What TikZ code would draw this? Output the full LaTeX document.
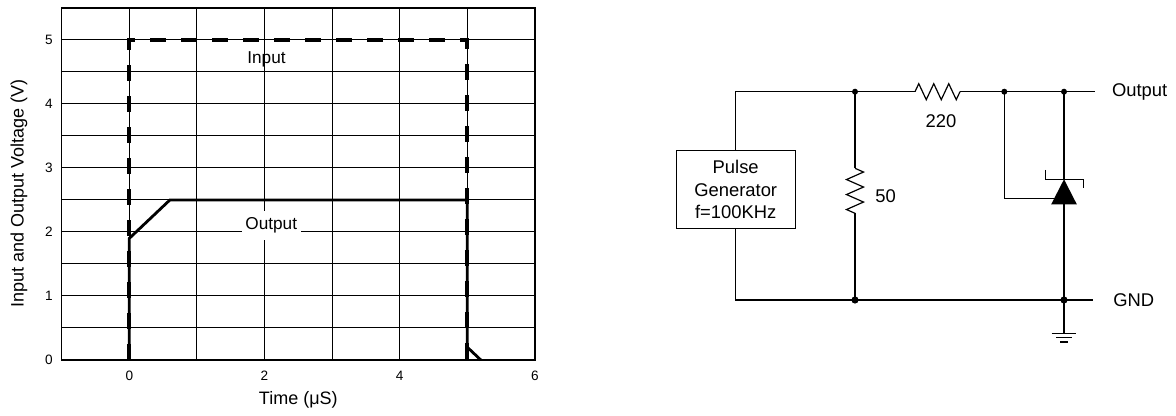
\documentclass[tikz,border=0pt]{standalone}
\usepackage{fontspec}
\setmainfont{Liberation Sans}
\usepackage{tikz}
\usetikzlibrary{calc}
\usetikzlibrary{positioning}
\tikzstyle{gridline} = [line width=0.5pt]
\tikzstyle{frame} = [line width=0.7pt]
\tikzstyle{inputline} = [line width=1.9pt, dash pattern=on 8pt off 7.5pt]
\tikzstyle{outputline} = [line width=1.4pt, line join=miter]
\tikzstyle{ticklabel} = [font=\fontsize{6.8pt}{8pt}\selectfont]
\tikzstyle{axislabel} = [font=\fontsize{9pt}{11pt}\selectfont]
\tikzstyle{curvelabel} = [font=\fontsize{8.6pt}{10pt}\selectfont, inner xsep=1.8pt, inner ysep=3.5pt]
\tikzstyle{wire} = [line width=0.6pt]
\tikzstyle{dot} = [circle, fill=black, inner sep=0pt, minimum size=3pt]
\tikzstyle{bigdot} = [circle, fill=black, inner sep=0pt, minimum size=3.6pt]
\tikzstyle{box} = [rectangle, draw=black, line width=0.6pt, align=center, minimum width=59.6pt, minimum height=39pt, font=\fontsize{9.2pt}{11.25pt}\selectfont]
\tikzstyle{partlabel} = [font=\fontsize{9.2pt}{11pt}\selectfont]

\begin{document}
\begin{tikzpicture}[x=33.8pt,y=32pt]
\useasboundingbox (-1.9127,-0.875) rectangle (15.4837,5.625);

\draw [gridline] (-1,0) grid [xstep=1,ystep=0.5] (6,5.5);
\draw [frame] (-1,0) rectangle (6,5.5);
\foreach \x in {0,2,4,6}
	\node (xt\x) [ticklabel, below=2pt] at (\x,0) {\x};
\foreach \y in {0,...,5}
	\node (yt\y) [ticklabel, left=1pt] at (-1,\y) {\y};
\node (xlabel) [axislabel] at (2.5,-0.625) {Time (μS)};
\node (ylabel) [axislabel, rotate=90] at (-1.632,2.6) {Input and Output Voltage (V)};

\node (inlabel) [curvelabel] at (2.03,4.69) {Input};
\node (outlabel) [curvelabel, fill=white] at (2.1,2.1) {Output};
\draw [inputline] (0,0) -- (0,5) -- (5,5) -- (5,0);
\draw [outputline] (0,0) -- (0,1.9) -- (0.6,2.5) -- (5,2.5) -- (5,0.2) -- (5.2,0);

\begin{scope}[shift={(303.2pt,30pt)}, x=0.5pt, y=0.5pt]
	\node (pulse) [box] at (0,110.3) {Pulse\\Generator\\f=100KHz};
	\coordinate (topleft) at (0,208.3);
	\coordinate (botleft) at (0,0);
	\coordinate (ntop) at (119.3,208.3);
	\coordinate (nbot) at (119.3,0);
	\coordinate (rloada) at (119.3,131.7);
	\coordinate (rloadb) at (119.3,86.7);
	\coordinate (rloadc) at (119.3,109.2);
	\coordinate (rsera) at (179.3,208.3);
	\coordinate (rserb) at (224.3,208.3);
	\coordinate (rserc) at (201.8,208.3);
	\coordinate (nclamp) at (268.6,208.3);
	\coordinate (bend) at (268.6,101.7);
	\coordinate (nout) at (328.3,208.3);
	\coordinate (ngnd) at (328.3,0);
	\coordinate (cathode) at (328.3,120.7);
	\coordinate (anode) at (328.3,95.7);
	\coordinate (gate) at (328.3,101.7);
	\coordinate (outend) at (359.3,208.3);
	\coordinate (gndend) at (357,0);
	\coordinate (earth) at (328.3,-33.3);

	\draw [wire] (pulse) -- (topleft) -- (ntop) -- (rsera);
	\draw [wire] (rsera) -- ++(3.75,8) -- ++(7.5,-16) -- ++(7.5,16) -- ++(7.5,-16) -- ++(7.5,16) -- ++(7.5,-16) -- (rserb);
	\draw [wire] (rserb) -- (nclamp) -- (nout) -- (outend);
	\draw [wire] (pulse) -- (botleft) -- (nbot) -- (ngnd) -- (gndend);
	\draw [wire] (ntop) -- (rloada);
	\draw [wire] (rloada) -- ++(8.5,-3.75) -- ++(-17,-7.5) -- ++(17,-7.5) -- ++(-17,-7.5) -- ++(17,-7.5) -- ++(-17,-7.5) -- (rloadb);
	\draw [wire] (rloadb) -- (nbot);
	\draw [wire] (nclamp) -- (bend) -- (gate);
	\draw [wire] (nout) -- (cathode);
	\draw [wire] (anode) -- (ngnd) -- (earth);
	\fill (cathode) -- ++(12.8,-25) -- ++(-25.6,0) -- cycle;
	\draw [wire] ($(cathode)+(-18.7,9.3)$) -- ++(0,-9.3) -- ++(38,0) -- ++(0,-9);
	\draw [wire] ($(earth)+(-12.3,0)$) -- ++(24.6,0);
	\draw [wire] ($(earth)+(-8,-4)$) -- ++(16,0);
	\draw [wire] ($(earth)+(-4,-8.7)$) -- ++(8,0);

	\foreach \n in {ntop,nclamp,nout}
		\node (dot\n) [dot] at (\n) {};
	\foreach \n in {nbot,ngnd}
		\node (dot\n) [bigdot] at (\n) {};

	\node (rserlabel) [partlabel, below=7.9pt of rserc, xshift=1.7pt] {220};
	\node (rloadlabel) [partlabel, right=6.6pt of rloadc, yshift=-2.6pt] {50};
	\node (outtext) [partlabel, anchor=west] at ($(outend)+(10,0)$) {Output};
	\node (gndtext) [partlabel, anchor=west] at ($(gndend)+(13.6,0)$) {GND};
\end{scope}
\end{tikzpicture}
\end{document}
